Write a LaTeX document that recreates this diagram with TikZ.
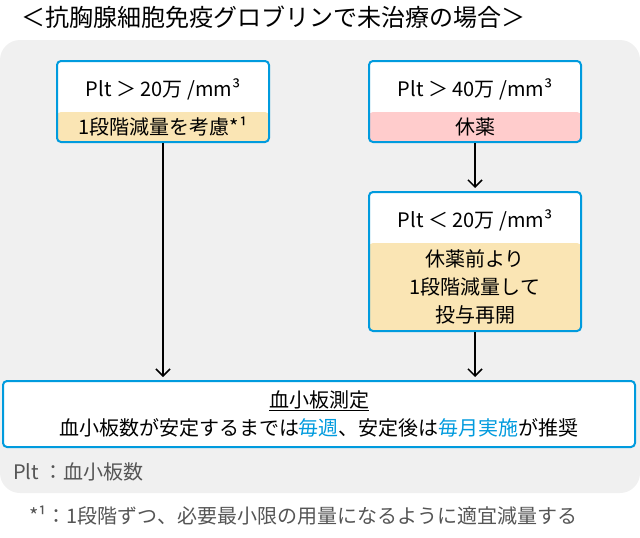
\documentclass[tikz,border=0pt]{standalone}
\usepackage{fontspec}
\setmainfont{Noto Sans CJK JP}
\usepackage{xcolor}
\usetikzlibrary{arrows.meta}

\definecolor{frameblue}{RGB}{0,155,222}
\definecolor{notetan}{RGB}{250,229,180}
\definecolor{notepink}{RGB}{255,204,204}
\definecolor{panelgray}{RGB}{240,240,240}
\definecolor{footgray}{RGB}{85,85,85}

\begin{document}
\begin{tikzpicture}[x=1pt,y=-1pt,
    box/.style={draw=frameblue,line width=2pt,rounded corners=4pt,fill=white,minimum width=212pt,inner sep=0pt},
    lower/.style 2 args={path picture={\fill[#1] (path picture bounding box.south west) rectangle ([yshift=#2]path picture bounding box.south east);}},
    txt/.style={font=\fontsize{20}{28}\selectfont,inner sep=0pt,align=center},
    flow/.style={-{Straight Barb[length=7pt,width=14pt]},line width=1.5pt,shorten >=3pt}]
    \useasboundingbox (0,0) rectangle (640,538);
    \fill[panelgray,rounded corners=20pt] (0,40) rectangle (640,493);

    \draw (21,17) node (title) [anchor=west,inner sep=0pt,font=\fontsize{24}{28}\selectfont] {＜抗胸腺細胞免疫グロブリンで未治療の場合＞};

    \draw (163,101.5) node (keep) [box,minimum height=81pt,lower={notetan}{30pt}] {};
    \draw (475,101.5) node (stop) [box,minimum height=81pt,lower={notepink}{30pt}] {};
    \draw (475,261.5) node (resume) [box,minimum height=139pt,lower={notetan}{88pt}] {};
    \draw (319,414) node (measure) [box,minimum width=632pt,minimum height=66pt] {};

    \draw (163,89) node (keeptop) [txt] {Plt ＞ 20万 /mm³};
    \draw (163,127) node (keepbot) [txt] {1段階減量を考慮*¹};
    \draw (475,89) node (stoptop) [txt] {Plt ＞ 40万 /mm³};
    \draw (475,127) node (stopbot) [txt] {休薬};
    \draw (475,220) node (resumetop) [txt] {Plt ＜ 20万 /mm³};
    \draw (475,287) node (resumebot) [txt] {休薬前より\\1段階減量して\\投与再開};
    \draw (319,401) node (measuretop) [txt] {\underline{血小板測定}};
    \draw (319,428) node (measurebot) [txt] {血小板数が安定するまでは\textcolor{frameblue}{毎週}、安定後は\textcolor{frameblue}{毎月実施}が推奨};

    \draw (13,472) node (legend) [txt,anchor=west,text=footgray] {Plt ：血小板数};
    \draw (29,516) node (footnote) [txt,anchor=west,text=footgray] {*¹：1段階ずつ、必要最小限の用量になるように適宜減量する};

    \draw[flow] (keep.south) -- (keep.south |- measure.north);
    \draw[flow] (stop.south) -- (resume.north);
    \draw[flow] (resume.south) -- (resume.south |- measure.north);
\end{tikzpicture}
\end{document}
